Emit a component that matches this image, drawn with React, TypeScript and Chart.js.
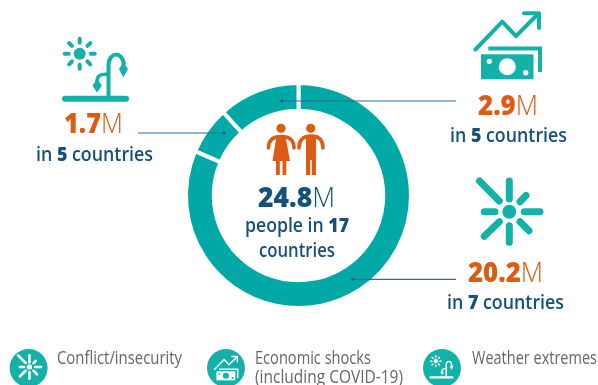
import React, { useEffect, useRef } from "react";
import { Chart, registerables } from "chart.js";

Chart.register(...registerables);

const categories = ["Conflict/insecurity", "Weather extremes", "Economic shocks (including COVID-19)"];
const peopleMillions = [20.2, 1.7, 2.9];
const sliceColors = ["#00a9a6", "#00a9a6", "#00a9a6"];

const TEAL = "#13b1a8";
const ORANGE = "#dc5c14";
const NAVY = "#14527a";
const GREY = "#666666";
const FONT = "'Open Sans', Lato, sans-serif";

type GlyphProps = { color: string; hole: string };

function Burst({ color }: GlyphProps) {
  const rays = [
    [509.3, 181, 509.3, 199],
    [479.5, 181, 499.3, 201],
    [520, 201.7, 526, 195.5],
    [524.3, 211.7, 540, 211.7],
    [520, 221.7, 529, 230.7],
    [509.3, 225.7, 509.3, 242.3],
    [499.3, 221.7, 484.3, 236.3],
    [495, 211.7, 484.3, 211.7],
  ];
  return (
    <g stroke={color} fill="none" strokeWidth={7} strokeLinecap="round">
      {rays.map((r, i) => (
        <line key={i} x1={r[0]} y1={r[1]} x2={r[2]} y2={r[3]} />
      ))}
      <circle cx={509.3} cy={211.7} r={7} fill={color} stroke="none" />
    </g>
  );
}

function Money({ color, hole }: GlyphProps) {
  return (
    <g>
      <path d="M475.5 49.5 L502.3 21.7 L516 36.2 L538 14" fill="none" stroke={color} strokeWidth={4} strokeLinecap="round" strokeLinejoin="round" />
      <path d="M524 13.3 H539 V28" fill="none" stroke={color} strokeWidth={4} strokeLinecap="round" strokeLinejoin="round" />
      <path d="M488.3 48.5 H540 V72" fill="none" stroke={color} strokeWidth={4} />
      <rect x={481} y={54.3} width={52.5} height={25} fill={color} />
      <circle cx={507.3} cy={66.7} r={8.5} fill={hole} />
      <circle cx={489.3} cy={61.3} r={2.6} fill={hole} />
      <circle cx={525.7} cy={72.7} r={2.7} fill={hole} />
    </g>
  );
}

function SunPlant({ color }: GlyphProps) {
  const cx = 79.7;
  const cy = 53.7;
  const angles = [0, 45, 90, 135, 180, 225, 270, 315];
  return (
    <g>
      <circle cx={cx} cy={cy} r={6} fill={color} />
      {angles.map((a) => {
        const t = (a * Math.PI) / 180;
        return (
          <line
            key={a}
            x1={cx + 11 * Math.cos(t)}
            y1={cy + 11 * Math.sin(t)}
            x2={cx + 15 * Math.cos(t)}
            y2={cy + 15 * Math.sin(t)}
            stroke={color}
            strokeWidth={4}
            strokeLinecap="round"
          />
        );
      })}
      <line x1={65} y1={98.7} x2={126} y2={98.7} stroke={color} strokeWidth={6} strokeLinecap="round" />
      <path d="M108.5 97 V66 C108.5 51 123 51 124 65" fill="none" stroke={color} strokeWidth={4} />
      <path d="M108.5 74.5 C100 73.5 97 76 97 82" fill="none" stroke={color} strokeWidth={3.5} />
      <path d="M123.3 62 L128 69 L123.3 77.5 L119 69 Z" fill={color} />
      <path d="M97 79 L102 85.5 L97 92.5 L92.5 85.5 Z" fill={color} />
    </g>
  );
}

function People() {
  return (
    <g fill={ORANGE}>
      <circle cx={281} cy={128.3} r={4.6} />
      <circle cx={310.7} cy={128.3} r={4.6} />
      <path d="M268.5 148 C268.5 140 273 136.5 281 136.5 C289 136.5 294 140 294 148" fill="none" stroke={ORANGE} strokeWidth={3.6} strokeLinecap="round" />
      <path d="M276.5 136 H285.5 L290 161 H272.5 Z" />
      <rect x={276} y={160} width={3.8} height={15} />
      <rect x={282.5} y={160} width={3.8} height={15} />
      <path d="M299 148 C299 140 303.5 136 311 136 C318.5 136 323 140 323 148" fill="none" stroke={ORANGE} strokeWidth={3.6} strokeLinecap="round" />
      <rect x={306} y={135} width={10} height={25} />
      <rect x={306} y={158} width={4.2} height={17} />
      <rect x={311.8} y={158} width={4.2} height={17} />
    </g>
  );
}

function Amount(props: { x: number; y: number; len: number; value: string; color: string }) {
  return (
    <text x={props.x} y={props.y} fontFamily={FONT} fontSize={28} textLength={props.len} lengthAdjust="spacingAndGlyphs" fill={props.color}>
      <tspan fontWeight={800}>{props.value}</tspan>
      <tspan fontWeight={300}>M</tspan>
    </text>
  );
}

function Countries(props: { x: number; y: number; len: number; pre: string; num: string; post: string }) {
  return (
    <text x={props.x} y={props.y} fontFamily={FONT} fontSize={20} fontWeight={600} textLength={props.len} lengthAdjust="spacingAndGlyphs" fill={NAVY}>
      {props.pre}
      <tspan fontWeight={800}>{props.num}</tspan>
      {props.post}
    </text>
  );
}

function LegendLabel(props: { x: number; y: number; len: number; text: string }) {
  return (
    <text x={props.x} y={props.y} fontFamily={FONT} fontSize={18} textLength={props.len} lengthAdjust="spacingAndGlyphs" fill={GREY}>
      {props.text}
    </text>
  );
}

function Badge(props: { cx: number; cy: number; gx: number; gy: number; s: number; sx: number; sy: number; Glyph: (p: GlyphProps) => React.ReactElement }) {
  const { cx, cy, gx, gy, s, sx, sy, Glyph } = props;
  return (
    <g>
      <circle cx={cx} cy={cy} r={19} fill={TEAL} />
      <g transform={`translate(${gx} ${gy}) scale(${s}) translate(${-sx} ${-sy})`}>
        <Glyph color="#ffffff" hole={TEAL} />
      </g>
    </g>
  );
}

export default function App() {
  const ref = useRef<HTMLCanvasElement | null>(null);

  useEffect(() => {
    if (!ref.current) return;
    const chart = new Chart(ref.current, {
      type: "doughnut",
      data: {
        labels: categories,
        datasets: [
          {
            data: peopleMillions,
            backgroundColor: sliceColors,
            borderColor: "#ffffff",
            borderWidth: 4,
          },
        ],
      },
      options: {
        responsive: false,
        animation: false,
        cutout: "75.3%",
        layout: { padding: { left: 184, right: 185, top: 81, bottom: 75 } },
        plugins: { legend: { display: false }, tooltip: { enabled: false } },
      },
    });
    return () => chart.destroy();
  }, []);

  return (
    <div style={{ position: "fixed", left: 0, top: 0, width: 598, height: 385, overflow: "hidden", background: "#fff" }}>
      <canvas ref={ref} width={598} height={385} style={{ position: "absolute", left: 0, top: 0 }} />
      <svg width={598} height={385} style={{ position: "absolute", left: 0, top: 0 }}>
        <g stroke="#2f6f92" strokeWidth={1.2} fill="none">
          <line x1={281.7} y1={101} x2={456} y2={101} />
          <line x1={138} y1={133} x2={224} y2={133} />
          <line x1={352.7} y1={279.3} x2={456} y2={279.3} />
        </g>
        <g fill="#14527a">
          <circle cx={281.7} cy={101} r={1.2} />
          <circle cx={224} cy={133} r={1.2} />
          <circle cx={352.7} cy={279.3} r={1.2} />
        </g>

        <SunPlant color={TEAL} hole="#fff" />
        <Money color={TEAL} hole="#fff" />
        <Burst color={TEAL} hole="#fff" />
        <People />

        <Amount x={64} y={133} len={59} value="1.7" color={ORANGE} />
        <Countries x={36} y={161} len={117} pre="in " num="5" post=" countries" />
        <Amount x={478} y={115} len={60} value="2.9" color={ORANGE} />
        <Countries x={450} y={142} len={117} pre="in " num="5" post=" countries" />
        <Amount x={468} y={281.7} len={75} value="20.2" color={ORANGE} />
        <Countries x={447} y={309} len={117} pre="in " num="7" post=" countries" />

        <Amount x={258} y={206.7} len={77} value="24.8" color={NAVY} />
        <Countries x={245} y={231.7} len={104} pre="people in " num="17" post="" />
        <Countries x={259} y={257.3} len={76} pre="countries" num="" post="" />

        <Badge cx={28.6} cy={368} gx={29.5} gy={367} s={0.38} sx={509.5} sy={211.7} Glyph={Burst} />
        <Badge cx={226} cy={368} gx={226} gy={368.5} s={0.36} sx={507.5} sy={46.5} Glyph={Money} />
        <Badge cx={442} cy={368} gx={441.5} gy={367} s={0.36} sx={95.5} sy={70} Glyph={SunPlant} />

        <LegendLabel x={57} y={364} len={125} text="Conflict/insecurity" />
        <LegendLabel x={255} y={364} len={116} text="Economic shocks" />
        <LegendLabel x={255} y={383} len={148} text="(including COVID-19)" />
        <LegendLabel x={472} y={364} len={125} text="Weather extremes" />
      </svg>
    </div>
  );
}
